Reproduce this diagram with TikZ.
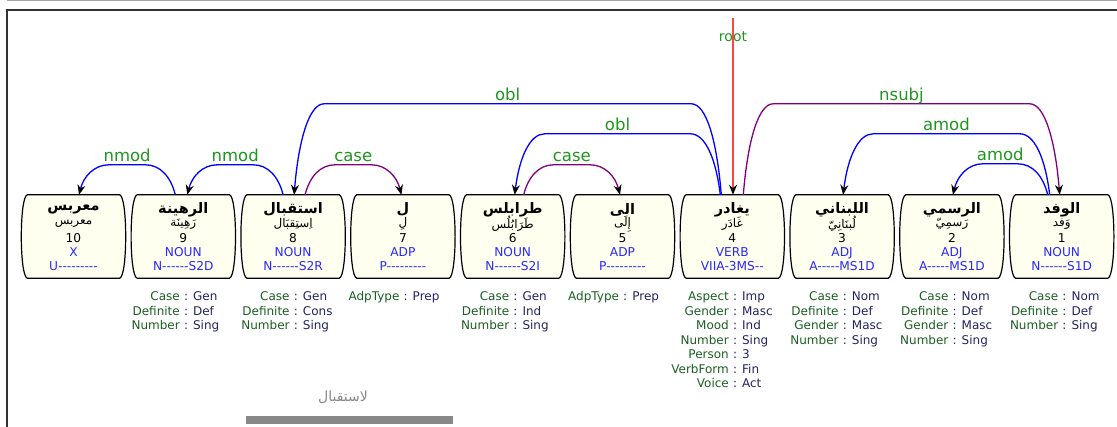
\documentclass[tikz,border=0pt]{standalone}
\usepackage{fontspec}
\setmainfont{DejaVu Sans}[Ligatures=TeXOff]
\newfontfamily\ar[Script=Arabic]{DejaVu Sans}
\TeXXeTstate=1
\usetikzlibrary{calc,arrows.meta}
\definecolor{ivoryc}{RGB}{255,255,240}
\definecolor{posblue}{RGB}{40,40,255}
\definecolor{arcblue}{RGB}{0,0,255}
\definecolor{arcpurple}{RGB}{128,0,128}
\definecolor{rootred}{RGB}{255,70,70}
\definecolor{labgreen}{RGB}{30,150,30}
\definecolor{fnamec}{RGB}{26,94,32}
\definecolor{fvalc}{RGB}{34,34,102}
\definecolor{framec}{RGB}{50,50,50}
\definecolor{barc}{RGB}{136,136,136}
\tikzset{
  wbox/.style={rectangle, minimum width=102pt, minimum height=83pt, inner sep=0pt},
  boxline/.style={draw=black, line width=1.2pt, fill=ivoryc},
  formtxt/.style={inner sep=0pt, font=\fontsize{14.5}{16}\selectfont\bfseries},
  lemtxt/.style={inner sep=0pt, font=\fontsize{12}{14}\selectfont},
  idxtxt/.style={inner sep=0pt, anchor=base, font=\fontsize{12.2}{14}\selectfont},
  postxt/.style={idxtxt, text=posblue},
  fnm/.style={inner sep=0pt, anchor=base east, text=fnamec, font=\fontsize{12}{14}\selectfont},
  fvl/.style={inner sep=0pt, anchor=base west, text=fvalc, font=\fontsize{12}{14}\selectfont},
  arcline/.style={line width=1.3pt, -{Stealth[black,length=10pt,width=8pt]}},
  arclabel/.style={inner sep=0pt, anchor=base, yshift=3.5pt, text=labgreen, font=\fontsize{16.5}{18}\selectfont},
  rootlab/.style={inner sep=0pt, anchor=base, text=labgreen, font=\fontsize{14}{16}\selectfont},
}
% #1 name, #2 x, #3 form, #4 lemma, #5 index, #6 upos, #7 xpos
\newcommand\wtok[7]{%
  \node[wbox] (#1) at (#2,236.5) {};
  \draw[boxline] ($(#1.north west)+(5,0)$) -- ($(#1.north east)+(-5,0)$)
     .. controls ($(#1.north east)+(3,2)$) and ($(#1.south east)+(3,-2)$) .. ($(#1.south east)+(-5,0)$)
     -- ($(#1.south west)+(5,0)$)
     .. controls ($(#1.south west)+(-3,-2)$) and ($(#1.north west)+(-3,2)$) .. cycle;
  \node[formtxt] (#1f) at ($(#1.north)+(0,15)$) {\ar\beginR #3\endR};
  \node[lemtxt] (#1l) at ($(#1.north)+(0,29)$) {\ar\beginR #4\endR};
  \node[idxtxt] (#1i) at ($(#1.north)+(0,47.5)$) {#5};
  \node[postxt] (#1u) at ($(#1.north)+(0,61.5)$) {#6};
  \node[postxt] (#1x) at ($(#1.north)+(0,76)$) {#7};
}
\newcommand\wfeat[4]{%
  \node[fnm] (#1n#2) at ($(#1.south)+(-3.3,{22.5+14.5*(#2-1)})$) {#3};
  \node[fvl] (#1v#2) at ($(#1.south)+(0.5,{22.5+14.5*(#2-1)})$) {: #4};
}
% #1 label name, #2 color, #3 src, #4 sdx, #5 tgt, #6 tdx, #7 h, #8 dir, #9 label
\newcommand\deparc[9]{%
  \draw[arcline,#2] ($(#3.north)+(#4,0)$)
    .. controls ($(#3.north)+({#4+#8*4.5},{-0.6*#7})$) and ($(#3.north)+({#4+#8*15},{-#7})$)
    .. ($(#3.north)+({#4+#8*30},{-#7})$)
    -- node[arclabel] (#1) {#9} ($(#5.north)+({#6-#8*30},{-#7})$)
    .. controls ($(#5.north)+({#6-#8*15},{-#7})$) and ($(#5.north)+({#6-#8*4.5},{-0.6*#7})$)
    .. ($(#5.north)+(#6,0)$);
}
\begin{document}
\begin{tikzpicture}[x=1pt,y=-1pt]
\useasboundingbox (0,0) rectangle (1117,427);
\draw[line width=1pt, black!35] (7,0.5) -- (1117,0.5);
\draw[line width=1.2pt, framec] (7,427) -- (7,10) -- (1117,10);

\wtok{w10}{73.5}{معربس}{معربس}{10}{X}{U---------}
\wtok{w9}{183.3}{الرهينة}{رَهِينَة}{9}{NOUN}{N------S2D}
\wtok{w8}{293.1}{استقبال}{اِستِقبَال}{8}{NOUN}{N------S2R}
\wtok{w7}{402.9}{ل}{لِ}{7}{ADP}{P---------}
\wtok{w6}{512.7}{طرابلس}{طَرَابُلُس}{6}{NOUN}{N------S2I}
\wtok{w5}{622.5}{الى}{إِلَى}{5}{ADP}{P---------}
\wtok{w4}{732.3}{يغادر}{غَادَر}{4}{VERB}{VIIA-3MS--}
\wtok{w3}{842.1}{اللبناني}{لُبنَانِيّ}{3}{ADJ}{A-----MS1D}
\wtok{w2}{951.9}{الرسمي}{رَسمِيّ}{2}{ADJ}{A-----MS1D}
\wtok{w1}{1061.7}{الوفد}{وَفد}{1}{NOUN}{N------S1D}

\wfeat{w9}{1}{Case}{Gen}
\wfeat{w9}{2}{Definite}{Def}
\wfeat{w9}{3}{Number}{Sing}
\wfeat{w8}{1}{Case}{Gen}
\wfeat{w8}{2}{Definite}{Cons}
\wfeat{w8}{3}{Number}{Sing}
\wfeat{w7}{1}{AdpType}{Prep}
\wfeat{w6}{1}{Case}{Gen}
\wfeat{w6}{2}{Definite}{Ind}
\wfeat{w6}{3}{Number}{Sing}
\wfeat{w5}{1}{AdpType}{Prep}
\wfeat{w4}{1}{Aspect}{Imp}
\wfeat{w4}{2}{Gender}{Masc}
\wfeat{w4}{3}{Mood}{Ind}
\wfeat{w4}{4}{Number}{Sing}
\wfeat{w4}{5}{Person}{3}
\wfeat{w4}{6}{VerbForm}{Fin}
\wfeat{w4}{7}{Voice}{Act}
\wfeat{w3}{1}{Case}{Nom}
\wfeat{w3}{2}{Definite}{Def}
\wfeat{w3}{3}{Gender}{Masc}
\wfeat{w3}{4}{Number}{Sing}
\wfeat{w2}{1}{Case}{Nom}
\wfeat{w2}{2}{Definite}{Def}
\wfeat{w2}{3}{Gender}{Masc}
\wfeat{w2}{4}{Number}{Sing}
\wfeat{w1}{1}{Case}{Nom}
\wfeat{w1}{2}{Definite}{Def}
\wfeat{w1}{3}{Number}{Sing}

\deparc{la1}{arcblue}{w9}{-8}{w10}{5.5}{30}{(-1)}{nmod}
\deparc{la2}{arcblue}{w8}{-10}{w9}{4}{30}{(-1)}{nmod}
\deparc{la3}{arcpurple}{w8}{12}{w7}{-1.5}{30}{1}{case}
\deparc{la4}{arcblue}{w4}{-11}{w8}{1}{91}{(-1)}{obl}
\deparc{la5}{arcblue}{w4}{-12}{w6}{2}{61}{(-1)}{obl}
\deparc{la6}{arcpurple}{w6}{11}{w5}{-2.5}{30}{1}{case}
\deparc{la7}{arcpurple}{w4}{11}{w1}{-2}{91}{1}{nsubj}
\deparc{la8}{arcblue}{w1}{-12}{w3}{1}{61}{(-1)}{amod}
\deparc{la9}{arcblue}{w1}{-14}{w2}{1}{31}{(-1)}{amod}

\coordinate (rtop) at ($(w4.north)+(0.7,-177)$);
\draw[line width=1.3pt, rootred, -{Stealth[black,length=10pt,width=8pt]}] (rtop) -- ($(w4.north)+(0.7,0)$);
\node[rootlab] (rootl) at ($(w4.north)+(0.7,-153)$) {root};

\node[inner sep=0pt, text=barc, font=\fontsize{14}{16}\selectfont] (tip) at (343,397) {\ar\beginR لاستقبال\endR};
\fill[barc] (246,416) rectangle (453,424);
\end{tikzpicture}
\end{document}
